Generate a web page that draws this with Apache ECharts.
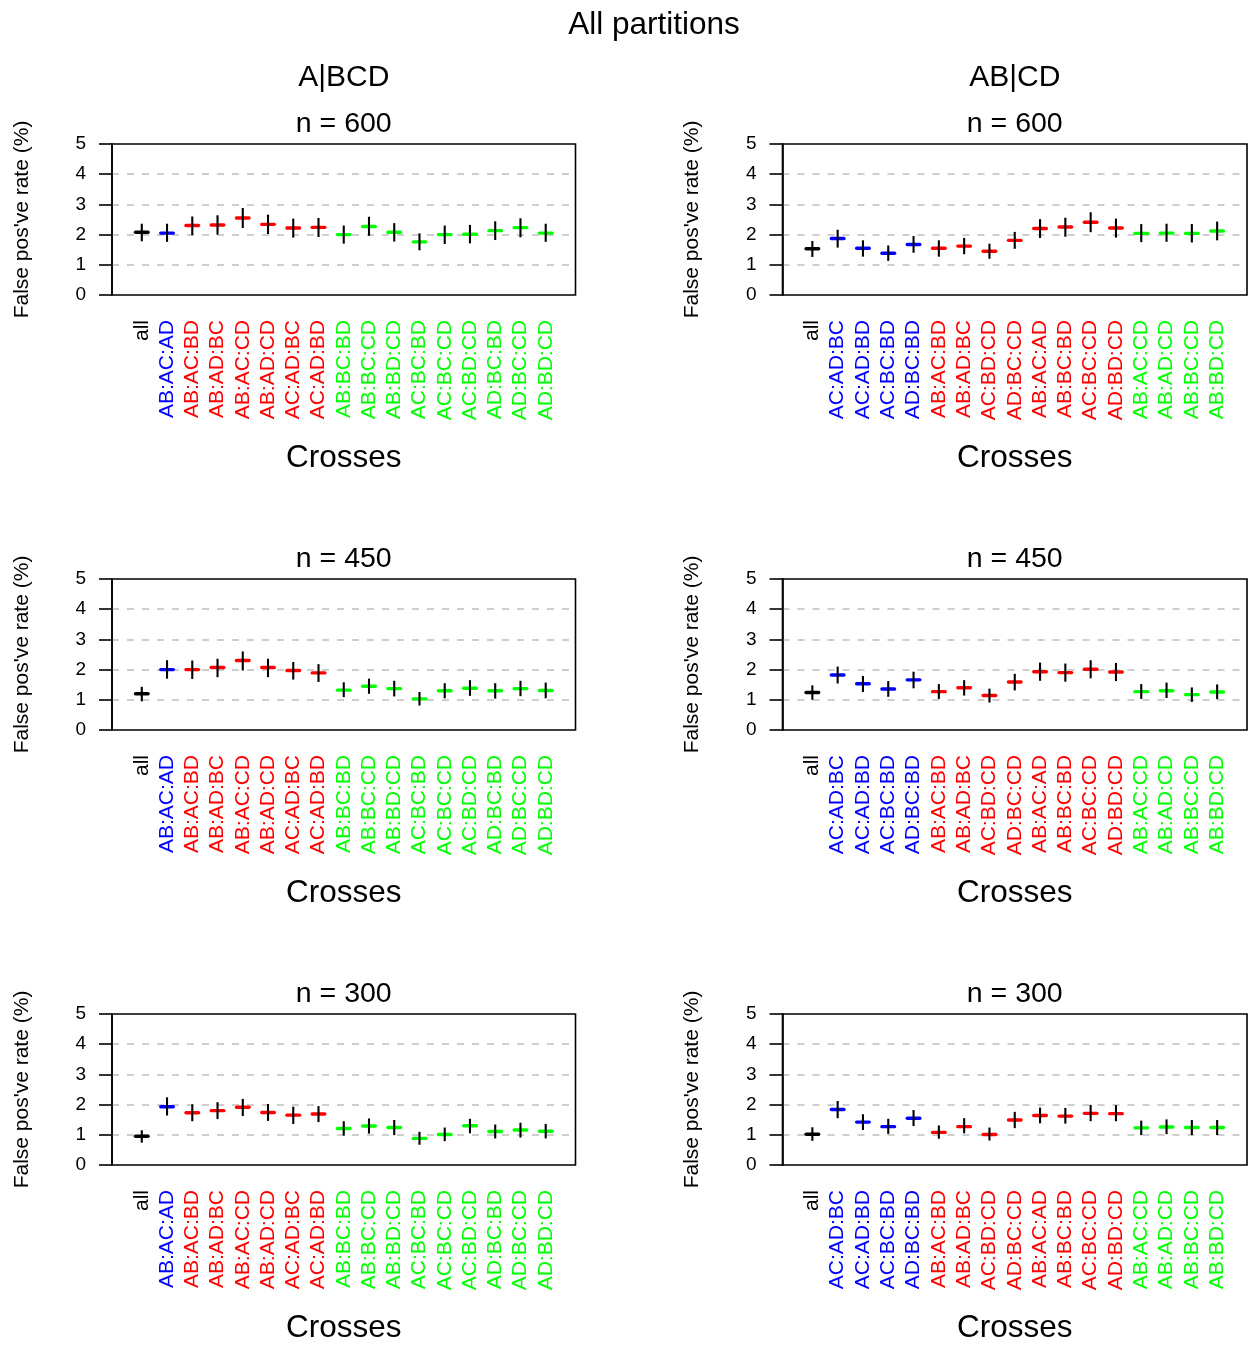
<!DOCTYPE html>
<html>
<head>
<meta charset="utf-8">
<script src="https://cdn.jsdelivr.net/npm/echarts@6/dist/echarts.min.js"></script>
<style>
html,body{margin:0;padding:0;background:#fff;}
#chart{width:1249px;height:1352px;}
</style>
</head>
<body>
<div id="chart"></div>
<script>
// ---------------- DATA ----------------
const crossesA = ['all','AB:AC:AD','AB:AC:BD','AB:AD:BC','AB:AC:CD','AB:AD:CD','AC:AD:BC','AC:AD:BD',
  'AB:BC:BD','AB:BC:CD','AB:BD:CD','AC:BC:BD','AC:BC:CD','AC:BD:CD','AD:BC:BD','AD:BC:CD','AD:BD:CD'];
const groupsA = ['all','blue','red','red','red','red','red','red',
  'green','green','green','green','green','green','green','green','green'];
const crossesAB = ['all','AC:AD:BC','AC:AD:BD','AC:BC:BD','AD:BC:BD','AB:AC:BD','AB:AD:BC','AC:BD:CD',
  'AD:BC:CD','AB:AC:AD','AB:BC:BD','AC:BC:CD','AD:BD:CD','AB:AC:CD','AB:AD:CD','AB:BC:CD','AB:BD:CD'];
const groupsAB = ['all','blue','blue','blue','blue','red','red','red',
  'red','red','red','red','red','green','green','green','green'];

const yTicks = [0,1,2,3,4,5];

// A|BCD, n = 600
const estA600 = [2.08,2.05,2.30,2.32,2.55,2.34,2.22,2.24,2.00,2.27,2.08,1.76,2.00,2.01,2.13,2.23,2.05];
const loA600  = [1.78,1.76,1.98,2.00,2.22,2.02,1.90,1.92,1.70,1.96,1.77,1.48,1.69,1.71,1.82,1.91,1.76];
const hiA600  = [2.36,2.36,2.60,2.64,2.88,2.66,2.53,2.55,2.30,2.59,2.38,2.04,2.30,2.32,2.44,2.54,2.36];
// AB|CD, n = 600
const estAB600 = [1.53,1.87,1.55,1.38,1.67,1.55,1.62,1.45,1.81,2.20,2.25,2.41,2.22,2.04,2.05,2.04,2.12];
const loAB600  = [1.26,1.57,1.27,1.13,1.40,1.27,1.35,1.20,1.53,1.89,1.93,2.08,1.90,1.75,1.76,1.74,1.81];
const hiAB600  = [1.79,2.16,1.81,1.64,1.95,1.81,1.89,1.70,2.09,2.51,2.56,2.74,2.53,2.35,2.36,2.35,2.43];
// A|BCD, n = 450
const estA450 = [1.20,2.00,2.00,2.07,2.30,2.07,1.97,1.89,1.32,1.45,1.37,1.03,1.30,1.38,1.30,1.37,1.31];
const loA450  = [0.95,1.70,1.69,1.75,1.97,1.75,1.67,1.59,1.09,1.20,1.11,0.81,1.05,1.13,1.04,1.12,1.05];
const hiA450  = [1.43,2.31,2.30,2.36,2.60,2.36,2.25,2.18,1.58,1.70,1.63,1.26,1.55,1.65,1.55,1.63,1.57];
// AB|CD, n = 450
const estAB450 = [1.24,1.82,1.53,1.36,1.66,1.27,1.40,1.14,1.59,1.93,1.90,2.01,1.92,1.27,1.30,1.17,1.26];
const loAB450  = [1.00,1.54,1.26,1.10,1.38,1.03,1.14,0.91,1.31,1.63,1.60,1.71,1.62,1.03,1.06,0.93,1.02];
const hiAB450  = [1.48,2.10,1.79,1.62,1.93,1.52,1.65,1.37,1.86,2.23,2.20,2.31,2.22,1.52,1.57,1.41,1.51];
// A|BCD, n = 300
const estA300 = [0.95,1.93,1.73,1.80,1.91,1.74,1.65,1.69,1.21,1.29,1.24,0.88,1.01,1.30,1.11,1.16,1.12];
const loA300  = [0.74,1.64,1.45,1.52,1.62,1.46,1.36,1.42,0.97,1.04,0.99,0.67,0.79,1.05,0.88,0.91,0.88];
const hiA300  = [1.15,2.24,2.01,2.08,2.19,2.02,1.93,1.95,1.45,1.54,1.49,1.10,1.24,1.53,1.34,1.40,1.36];
// AB|CD, n = 300
const estAB300 = [1.02,1.84,1.42,1.27,1.55,1.08,1.27,1.01,1.49,1.64,1.62,1.71,1.70,1.23,1.26,1.24,1.24];
const loAB300  = [0.80,1.55,1.16,1.03,1.29,0.87,1.05,0.81,1.22,1.38,1.37,1.45,1.45,0.99,1.02,0.99,0.99];
const hiAB300  = [1.25,2.12,1.68,1.53,1.82,1.31,1.55,1.24,1.76,1.90,1.89,1.99,1.98,1.47,1.51,1.49,1.49];

// ---------------- LAYOUT ----------------
const FONT = '"Liberation Sans", Arial, Helvetica, sans-serif';
const groupColor = {all:'#000000', blue:'#0000FF', red:'#FF0000', green:'#00FF00'};
const colLeft = [112, 782.5];
const colWidth = [463.5, 464.5];
const rowTop = [144, 579, 1014];
const plotH = 151;

const panels = [
  {row:0,col:0,cats:crossesA, groups:groupsA, est:estA600, lo:loA600, hi:hiA600, n:'n = 600'},
  {row:0,col:1,cats:crossesAB,groups:groupsAB,est:estAB600,lo:loAB600,hi:hiAB600,n:'n = 600'},
  {row:1,col:0,cats:crossesA, groups:groupsA, est:estA450, lo:loA450, hi:hiA450, n:'n = 450'},
  {row:1,col:1,cats:crossesAB,groups:groupsAB,est:estAB450,lo:loAB450,hi:hiAB450,n:'n = 450'},
  {row:2,col:0,cats:crossesA, groups:groupsA, est:estA300, lo:loA300, hi:hiA300, n:'n = 300'},
  {row:2,col:1,cats:crossesAB,groups:groupsAB,est:estAB300,lo:loAB300,hi:hiAB300,n:'n = 300'}
];

const rich = {};
Object.keys(groupColor).forEach(k => {
  rich[k] = {color: groupColor[k], fontSize: 21, fontFamily: FONT};
});

const grids = [], xAxes = [], yAxes = [], series = [], graphics = [];

panels.forEach((p, i) => {
  const left = colLeft[p.col], top = rowTop[p.row], w = colWidth[p.col];
  const n = p.cats.length;
  grids.push({left: left, top: top, width: w, height: plotH, show: true,
    borderColor: '#000', borderWidth: 1.6, backgroundColor: 'transparent', containLabel: false});
  const positions = p.cats.map((c, k) => k + 1);
  xAxes.push({
    type: 'value', gridIndex: i, min: 0.5 - 0.04 * n, max: n + 0.5 + 0.04 * n,
    axisLine: {show: false, onZero: false}, axisTick: {show: false}, splitLine: {show: false},
    axisLabel: {
      show: true, rotate: 90, margin: 25,
      customValues: positions,
      formatter: function (v) {
        const k = Math.round(v) - 1;
        if (k < 0 || k >= n) return '';
        return '{' + p.groups[k] + '|' + p.cats[k] + '}';
      },
      rich: rich
    }
  });
  yAxes.push({
    type: 'value', gridIndex: i, min: 0, max: 5, interval: 1,
    axisLine: {show: true, onZero: false, lineStyle: {color: '#000', width: 1.6}},
    axisTick: {show: true, length: 13, lineStyle: {color: '#000', width: 1.6}},
    axisLabel: {show: true, color: '#000', fontSize: 19, fontFamily: FONT, margin: 26,
      customValues: yTicks, formatter: v => String(v)},
    splitLine: {show: true, showMinLine: false, showMaxLine: false,
      lineStyle: {color: '#BEBEBE', width: 1.6, type: [7, 8]}}
  });
  const data = p.est.map((e, k) => [k + 1, e, p.lo[k], p.hi[k]]);
  series.push({
    type: 'custom', xAxisIndex: i, yAxisIndex: i, data: data, clip: false,
    renderItem: function (params, api) {
      const x = api.value(0), e = api.value(1), lo = api.value(2), hi = api.value(3);
      const pe = api.coord([x, e]), pl = api.coord([x, lo]), ph = api.coord([x, hi]);
      const col = groupColor[p.groups[params.dataIndex]];
      return {type: 'group', children: [
        {type: 'line', shape: {x1: pe[0] - 6.3, y1: pe[1], x2: pe[0] + 6.3, y2: pe[1]},
          style: {stroke: col, lineWidth: 3.4, lineCap: 'round'}},
        {type: 'line', shape: {x1: pl[0], y1: pl[1], x2: ph[0], y2: ph[1]},
          style: {stroke: '#000', lineWidth: 2.1}}
      ]};
    }
  });
  const cx = left + w / 2;
  graphics.push({type: 'text', x: cx, y: top - 20, style: {text: p.n, font: '28.5px ' + FONT,
    fill: '#000', textAlign: 'center', textVerticalAlign: 'middle'}});
  graphics.push({type: 'text', x: cx, y: top + 314, style: {text: 'Crosses', font: '31.5px ' + FONT,
    fill: '#000', textAlign: 'center', textVerticalAlign: 'middle'}});
  graphics.push({type: 'text', x: left - 90, y: top + plotH / 2, rotation: Math.PI / 2,
    style: {text: "False pos've rate (%)", font: '21px ' + FONT, fill: '#000',
      textAlign: 'center', textVerticalAlign: 'middle'}});
});

graphics.push({type: 'text', x: 654, y: 25, style: {text: 'All partitions', font: '31.5px ' + FONT,
  fill: '#000', textAlign: 'center', textVerticalAlign: 'middle'}});
graphics.push({type: 'text', x: colLeft[0] + colWidth[0] / 2, y: 78, style: {text: 'A|BCD', font: '30px ' + FONT,
  fill: '#000', textAlign: 'center', textVerticalAlign: 'middle'}});
graphics.push({type: 'text', x: colLeft[1] + colWidth[1] / 2, y: 78, style: {text: 'AB|CD', font: '30px ' + FONT,
  fill: '#000', textAlign: 'center', textVerticalAlign: 'middle'}});

const chart = echarts.init(document.getElementById('chart'), null, {renderer: 'canvas'});
chart.setOption({
  backgroundColor: '#ffffff',
  animation: false,
  textStyle: {fontFamily: FONT},
  grid: grids, xAxis: xAxes, yAxis: yAxes, series: series, graphic: graphics
});
</script>
</body>
</html>
